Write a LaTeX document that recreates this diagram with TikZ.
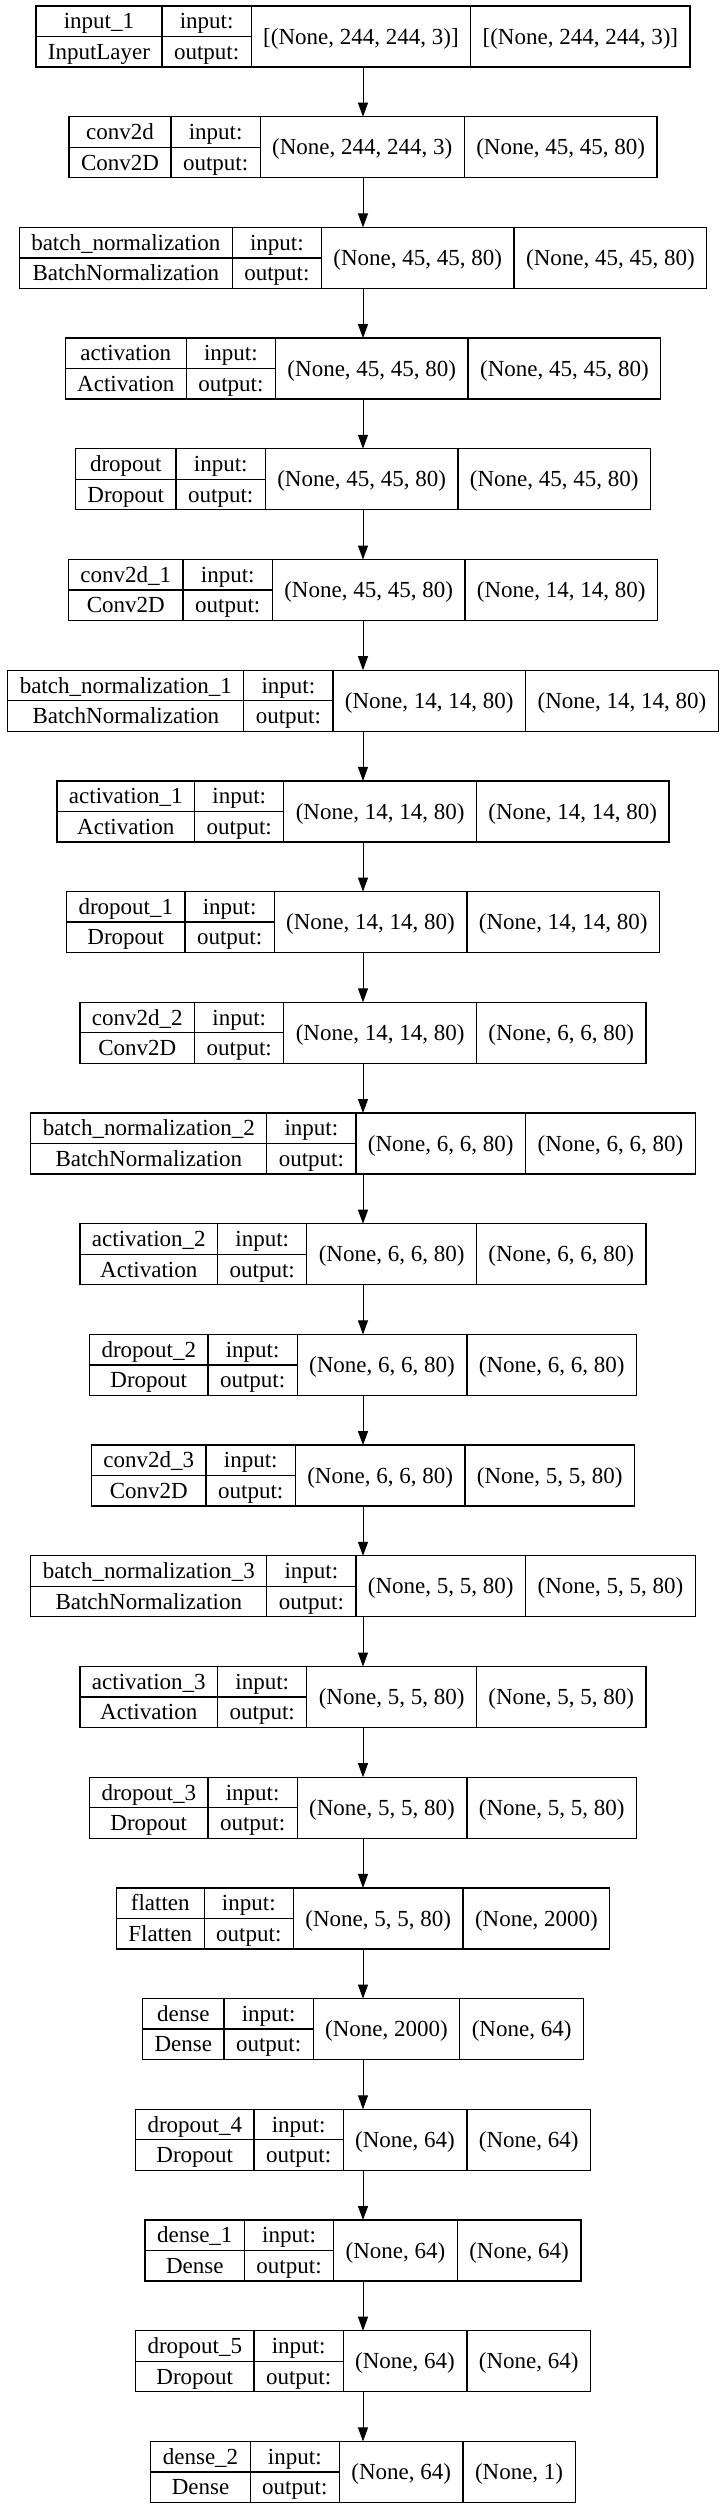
\documentclass[tikz,border=0pt]{standalone}
\usepackage{fontspec}
\setmainfont{Liberation Serif}
\usetikzlibrary{arrows.meta}
\newcommand\lfont{\fontsize{11.5pt}{13pt}\selectfont}
\newlength\LA \newlength\LB \newlength\LC \newlength\LD \newlength\LTot
\tikzset{
  box/.style={draw=black, line width=0.65pt, inner sep=0pt, outer sep=0pt, minimum height=30.5pt},
  rule/.style={draw=black, line width=0.65pt},
  txt/.style={inner sep=0pt, outer sep=0pt, font=\lfont, text height=7.6pt, text depth=0pt, anchor=center},
  conn/.style={draw=black, line width=0.5pt, -{Triangle[length=7pt,width=5pt]}},
}
\newcommand\layer[6]{%
  \pgfinterruptpicture
  \settowidth\LA{\lfont #3}\settowidth\LB{\lfont #4}%
  \ifdim\LB>\LA \LA=\LB\fi
  \addtolength\LA{12pt}%
  \settowidth\LB{\lfont output:}\addtolength\LB{12pt}%
  \settowidth\LC{\lfont #5}\addtolength\LC{12pt}%
  \settowidth\LD{\lfont #6}\addtolength\LD{12pt}%
  \global\LA=\LA \global\LB=\LB \global\LC=\LC \global\LD=\LD
  \endpgfinterruptpicture
  \LTot=\LA \advance\LTot\LB \advance\LTot\LC \advance\LTot\LD
  \pgfmathsetmacro\xa{181.5-0.5*\LTot}%
  \pgfmathsetmacro\xb{\xa+\LA}%
  \pgfmathsetmacro\xc{\xb+\LB}%
  \pgfmathsetmacro\xd{\xc+\LC}%
  \pgfmathsetmacro\xe{\xd+\LD}%
  \pgfmathsetmacro\yt{-0.5*(6+110.7*#2)}%
  \pgfmathsetmacro\yb{\yt-30.5}%
  \pgfmathsetmacro\ym{\yt-15.25}%
  \pgfmathsetmacro\yu{\yt-7.625}%
  \pgfmathsetmacro\yl{\yt-22.875}%
  \node[box, minimum width=\LTot] (#1) at (181.5pt,\ym pt) {};
  \draw[rule] (\xb pt,\yt pt) -- (\xb pt,\yb pt);
  \draw[rule] (\xc pt,\yt pt) -- (\xc pt,\yb pt);
  \draw[rule] (\xd pt,\yt pt) -- (\xd pt,\yb pt);
  \draw[rule] (\xa pt,\ym pt) -- (\xc pt,\ym pt);
  \node[txt] (#1-name) at ({(\xa+\xb)/2*1pt},\yu pt) {#3};
  \node[txt] (#1-class) at ({(\xa+\xb)/2*1pt},\yl pt) {#4};
  \node[txt] (#1-pin) at ({(\xb+\xc)/2*1pt},\yu pt) {input:};
  \node[txt] (#1-pout) at ({(\xb+\xc)/2*1pt},\yl pt) {output:};
  \node[txt] (#1-in) at ({(\xc+\xd)/2*1pt},\ym pt) {#5};
  \node[txt] (#1-out) at ({(\xd+\xe)/2*1pt},\ym pt) {#6};
}
\begin{document}
\begin{tikzpicture}
\fill[white] (0,0) rectangle (363.5pt,-1254pt);
\useasboundingbox (0,0) rectangle (363.5pt,-1254pt);
\layer{L0}{0}{input\_1}{InputLayer}{[(None, 244, 244, 3)]}{[(None, 244, 244, 3)]}
\layer{L1}{1}{conv2d}{Conv2D}{(None, 244, 244, 3)}{(None, 45, 45, 80)}
\layer{L2}{2}{batch\_normalization}{BatchNormalization}{(None, 45, 45, 80)}{(None, 45, 45, 80)}
\layer{L3}{3}{activation}{Activation}{(None, 45, 45, 80)}{(None, 45, 45, 80)}
\layer{L4}{4}{dropout}{Dropout}{(None, 45, 45, 80)}{(None, 45, 45, 80)}
\layer{L5}{5}{conv2d\_1}{Conv2D}{(None, 45, 45, 80)}{(None, 14, 14, 80)}
\layer{L6}{6}{batch\_normalization\_1}{BatchNormalization}{(None, 14, 14, 80)}{(None, 14, 14, 80)}
\layer{L7}{7}{activation\_1}{Activation}{(None, 14, 14, 80)}{(None, 14, 14, 80)}
\layer{L8}{8}{dropout\_1}{Dropout}{(None, 14, 14, 80)}{(None, 14, 14, 80)}
\layer{L9}{9}{conv2d\_2}{Conv2D}{(None, 14, 14, 80)}{(None, 6, 6, 80)}
\layer{L10}{10}{batch\_normalization\_2}{BatchNormalization}{(None, 6, 6, 80)}{(None, 6, 6, 80)}
\layer{L11}{11}{activation\_2}{Activation}{(None, 6, 6, 80)}{(None, 6, 6, 80)}
\layer{L12}{12}{dropout\_2}{Dropout}{(None, 6, 6, 80)}{(None, 6, 6, 80)}
\layer{L13}{13}{conv2d\_3}{Conv2D}{(None, 6, 6, 80)}{(None, 5, 5, 80)}
\layer{L14}{14}{batch\_normalization\_3}{BatchNormalization}{(None, 5, 5, 80)}{(None, 5, 5, 80)}
\layer{L15}{15}{activation\_3}{Activation}{(None, 5, 5, 80)}{(None, 5, 5, 80)}
\layer{L16}{16}{dropout\_3}{Dropout}{(None, 5, 5, 80)}{(None, 5, 5, 80)}
\layer{L17}{17}{flatten}{Flatten}{(None, 5, 5, 80)}{(None, 2000)}
\layer{L18}{18}{dense}{Dense}{(None, 2000)}{(None, 64)}
\layer{L19}{19}{dropout\_4}{Dropout}{(None, 64)}{(None, 64)}
\layer{L20}{20}{dense\_1}{Dense}{(None, 64)}{(None, 64)}
\layer{L21}{21}{dropout\_5}{Dropout}{(None, 64)}{(None, 64)}
\layer{L22}{22}{dense\_2}{Dense}{(None, 64)}{(None, 1)}
\foreach \i [evaluate=\i as \j using int(\i+1)] in {0,...,21} {
  \draw[conn] (L\i.south) -- (L\j.north);
}
\end{tikzpicture}
\end{document}
